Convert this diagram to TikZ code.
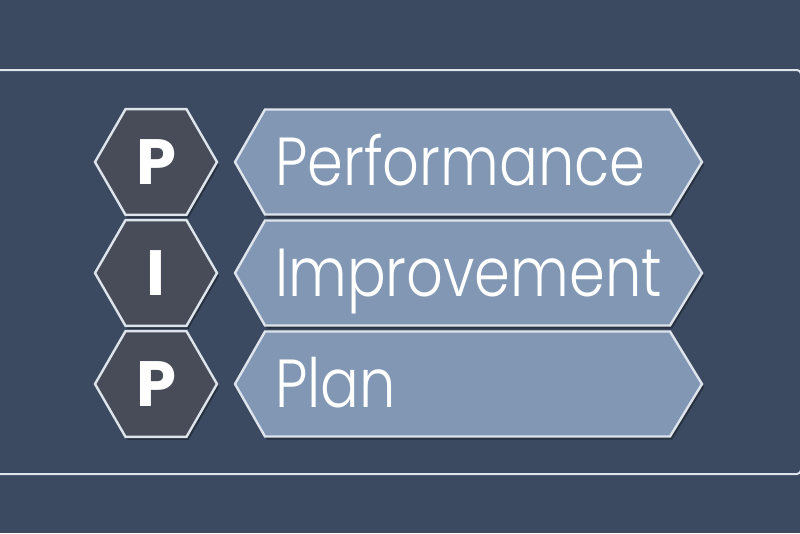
\documentclass[tikz,border=0pt]{standalone}
\usepackage{fontspec}
\usepackage{graphicx}
\usetikzlibrary{shapes.geometric}
\newfontfamily\bannerfont{Poppins Light}
\newfontfamily\hexfont{Poppins Bold}
\definecolor{bgcol}{RGB}{59,74,96}
\definecolor{hexfill}{RGB}{71,76,88}
\definecolor{banfill}{RGB}{129,151,180}
\definecolor{edge}{RGB}{222,228,236}
\tikzset{
  hexbox/.style={regular polygon, regular polygon sides=6, minimum size=122pt, inner sep=0pt,
    fill=hexfill, draw=edge, line width=2.4pt, text=white, font=\hexfont\fontsize{64}{64}\selectfont},
  hexshadow/.style={regular polygon, regular polygon sides=6, minimum size=122pt, inner sep=0pt,
    fill=black, fill opacity=0.35},
  banpath/.style={fill=banfill, draw=edge, line width=2.4pt, line join=miter},
  banshadow/.style={fill=black, fill opacity=0.35},
  bantext/.style={anchor=base west, inner sep=0pt, text=white, font=\bannerfont\fontsize{68}{68}\selectfont},
  frameline/.style={draw=edge, line width=2pt}
}
\begin{document}
\begin{tikzpicture}[x=1pt,y=-1pt]
\fill[bgcol] (0,0) rectangle (800,533);
\useasboundingbox (0,0) rectangle (800,533);
\draw[frameline, rounded corners=4pt] (-5,70) -- (801,70) -- (801,474) -- (-5,474);
\foreach \cy/\L/\W/\nm in {162/P/Performance/a, 273/I/Improvement/b, 384/P/Plan/c}{
  \node[hexshadow] at (158,\cy+3) {};
  \node[hexbox] (hex\nm) at (156,\cy) {\L};
  \fill[banshadow] (237,\cy+3) -- (267,\cy-49.5) -- (672,\cy-49.5) -- (704,\cy+3) -- (672,\cy+55.5) -- (267,\cy+55.5) -- cycle;
  \path[banpath] (235,\cy) -- (265,\cy-52.5) -- (670,\cy-52.5) -- (702,\cy) -- (670,\cy+52.5) -- (265,\cy+52.5) -- cycle;
  \node[bantext] (word\nm) at (275,\cy+23) {\scalebox{0.845}[1]{\W}};
}
\end{tikzpicture}
\end{document}
